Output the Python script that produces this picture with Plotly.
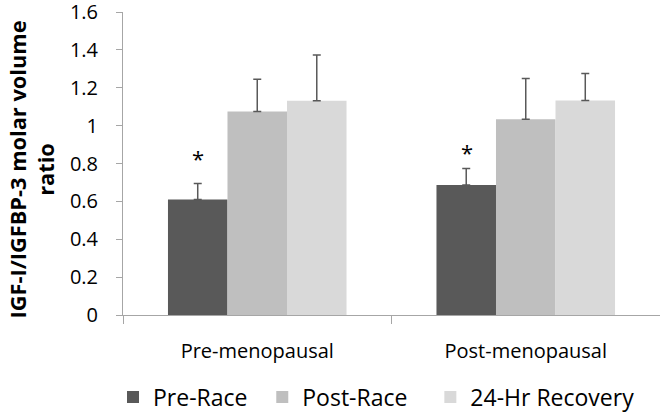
import plotly.graph_objects as go

categories = ["Pre-menopausal", "Post-menopausal"]
series_names = ["Pre-Race", "Post-Race", "24-Hr Recovery"]
values = {
    "Pre-Race": [0.61, 0.686],
    "Post-Race": [1.075, 1.034],
    "24-Hr Recovery": [1.132, 1.133],
}
errors = {
    "Pre-Race": [0.085, 0.087],
    "Post-Race": [0.17, 0.215],
    "24-Hr Recovery": [0.241, 0.142],
}
colors = {"Pre-Race": "#595959", "Post-Race": "#bfbfbf", "24-Hr Recovery": "#d9d9d9"}
star_y = [0.83, 0.86]
y_ticks = [0, 0.2, 0.4, 0.6, 0.8, 1, 1.2, 1.4, 1.6]
y_tick_text = ["0", "0.2", "0.4", "0.6", "0.8", "1", "1.2", "1.4", "1.6"]
y_title = "IGF-I/IGFBP-3 molar volume<br>ratio"

FONT = "Open Sans, sans-serif"
pads = ["\u00a0\u2009", "\u00a0\u00a0\u00a0", ""]

fig = go.Figure()
for s, pad in zip(series_names, pads):
    fig.add_trace(go.Bar(
        name=s + pad, x=categories, y=values[s],
        marker=dict(color=colors[s], line=dict(width=0)),
        error_y=dict(type="data", array=errors[s], arrayminus=[0, 0], symmetric=False,
                     color="#595959", thickness=1.5, width=4),
    ))

for cat, sy in zip(categories, star_y):
    fig.add_annotation(x=cat, y=sy, xref="x", yref="y", text="*", showarrow=False,
                       xshift=-59, font=dict(family=FONT, size=22, color="#000"))

fig.add_annotation(x=-(123 - 31) / 537, y=0.5 - 6 / 303, xref="paper", yref="paper",
                   xanchor="center", yanchor="middle", textangle=-90, showarrow=False,
                   text="<b>" + y_title + "</b>",
                   font=dict(family=FONT, size=21.8, color="#000"))

fig.update_layout(
    width=660, height=412,
    margin=dict(l=123, r=0, t=12, b=97, autoexpand=False),
    paper_bgcolor="white", plot_bgcolor="white",
    barmode="group", bargap=0.335, bargroupgap=0,
    font=dict(family=FONT, size=20, color="#000"),
    legend=dict(orientation="h", x=(113 - 123) / 537, xanchor="left", y=-0.271, yanchor="middle",
                font=dict(size=23), itemwidth=30, traceorder="normal"),
    showlegend=True,
)
fig.update_yaxes(range=[0, 1.6], tickvals=y_ticks, ticktext=y_tick_text,
                 showgrid=False, zeroline=False, showline=True, linecolor="#a6a6a6",
                 ticks="outside", ticklen=6, tickcolor="#a6a6a6", automargin=False,
                 ticklabelstandoff=14, ticklabeloverflow="allow",
                 tickfont=dict(size=20, color="#000"))
fig.update_xaxes(showgrid=False, showline=True, linecolor="#a6a6a6",
                 ticks="outside", tickson="boundaries", ticklen=8, tickcolor="#a6a6a6",
                 automargin=False, ticklabelstandoff=18,
                 tickfont=dict(size=20, color="#000"))

fig.write_html("out.html", config={"displayModeBar": False},
               post_script="document.body.style.margin='0';")
